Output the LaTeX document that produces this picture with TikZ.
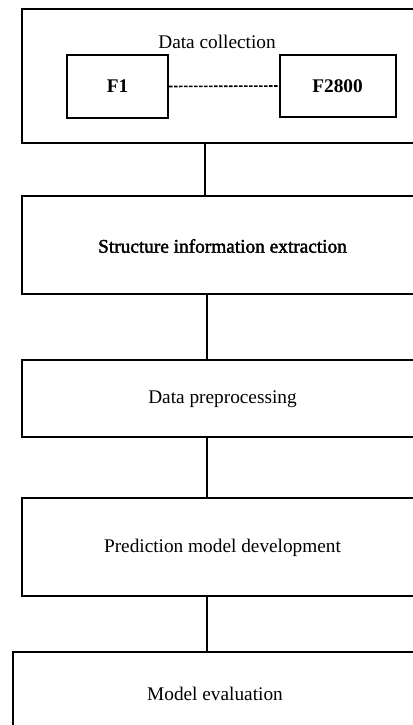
\documentclass[tikz,border=0pt]{standalone}
\usepackage{fontspec}
\setmainfont{Liberation Serif}
\newfontfamily\heavyserif[FakeBold=2]{Liberation Serif}
\tikzset{
  stage/.style={draw, line width=2.6pt, rectangle, inner sep=0pt},
  item/.style={draw, line width=2pt, rectangle, inner sep=0pt},
  lbl/.style={inner sep=0pt, font=\fontsize{19.3}{23}\selectfont},
  link/.style={line width=2.2pt},
}
\begin{document}
\begin{tikzpicture}[x=1pt, y=-1pt]
\useasboundingbox (0,0) rectangle (412,725);
% stage frames (right edges run past the page)
\node[stage, minimum width=408pt, minimum height=134pt] (s1) at (226,76) {};
\node[stage, minimum width=408pt, minimum height=98pt] (s2) at (226,245) {};
\node[stage, minimum width=408pt, minimum height=77pt] (s3) at (226,398.5) {};
\node[stage, minimum width=408pt, minimum height=98pt] (s4) at (226,547) {};
\node[stage, minimum width=417pt, minimum height=110pt] (s5) at (221.5,707) {};
% data collection contents
\node[lbl] (t1) at (217,42) {Data collection};
\node[item, minimum width=101pt, minimum height=63pt, font=\fontsize{19.3}{23}\selectfont\bfseries] (f1) at (117.5,86.5) {F1};
\node[item, minimum width=116pt, minimum height=62pt, font=\fontsize{19.3}{23}\selectfont\bfseries] (f2) at (337.5,86) {F2800};
\draw[line width=1.6pt, dash pattern=on 3.5pt off 1.5pt] (f1.east) -- (f2.west);
% stage titles
\node[lbl, font=\fontsize{19.3}{23}\heavyserif] (t2) at (222.5,246) {Structure information extraction};
\node[lbl] (t3) at (222.5,399) {Data preprocessing};
\node[lbl] (t4) at (222.5,548) {Prediction model development};
\node[lbl] (t5) at (215,694) {Model evaluation};
% connectors
\draw[link] (s1.south -| 205,0) -- (s2.north -| 205,0);
\draw[link] (s2.south -| 207,0) -- (s3.north -| 207,0);
\draw[link] (s3.south -| 207,0) -- (s4.north -| 207,0);
\draw[link] (s4.south -| 207,0) -- (s5.north -| 207,0);
\end{tikzpicture}
\end{document}
